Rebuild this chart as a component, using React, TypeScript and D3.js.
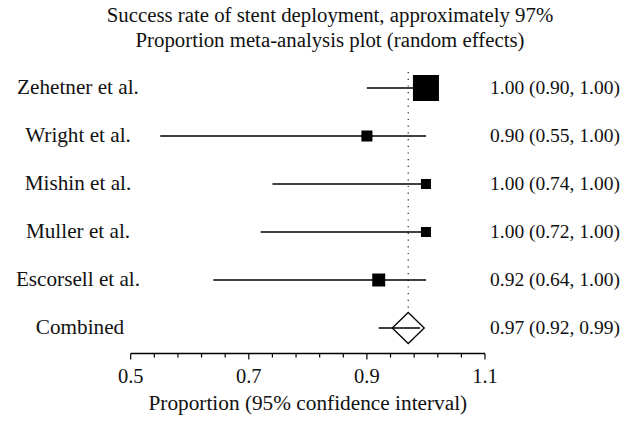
import React from "react";
import * as d3 from "d3";

const studies = ["Zehetner et al.", "Wright et al.", "Mishin et al.", "Muller et al.", "Escorsell et al."];
const estimates = [1.0, 0.9, 1.0, 1.0, 0.92];
const lowers = [0.9, 0.55, 0.74, 0.72, 0.64];
const uppers = [1.0, 1.0, 1.0, 1.0, 1.0];
const weights = [40.6, 7.3, 6.0, 6.0, 10.1];
const valueLabels = [
  "1.00 (0.90, 1.00)",
  "0.90 (0.55, 1.00)",
  "1.00 (0.74, 1.00)",
  "1.00 (0.72, 1.00)",
  "0.92 (0.64, 1.00)",
];
const combinedLabel = "Combined";
const combinedEstimate = 0.97;
const combinedLower = 0.92;
const combinedUpper = 0.99;
const combinedValueLabel = "0.97 (0.92, 0.99)";
const tickLabels = ["0.5", "0.7", "0.9", "1.1"];
const titleLines = [
  "Success rate of stent deployment, approximately 97%",
  "Proportion meta-analysis plot (random effects)",
];
const xAxisTitle = "Proportion (95% confidence interval)";

const W = 637;
const H = 421;
const FONT = "'Liberation Serif', 'Times New Roman', serif";

export default function App() {
  const x = d3.scaleLinear().domain([0.5, 1.1]).range([130.7, 485]);
  const rows = [...studies, combinedLabel];
  const y = d3.scalePoint<string>().domain(rows).range([88, 328]);
  const size = d3.scaleSqrt().domain([0, d3.max(weights) as number]).range([0, 26]);
  const ticks = d3.range(0, 16).map((i) => 0.5 + i * 0.04);
  const axisY = 353.5;
  const cy = y(combinedLabel) as number;
  const dHalfW = 16;
  const dHalfH = 15.5;
  const cx = x(combinedEstimate);

  return (
    <div style={{ position: "absolute", left: 0, top: 0 }}>
      <svg width={W} height={H} style={{ display: "block", background: "#fff" }} fontFamily={FONT}>
        <rect width={W} height={H} fill="#fff" />
        {titleLines.map((t, i) => (
          <text key={t} x={330} y={22 + i * 24.5} textAnchor="middle" fontSize={20.8} fill="#111">
            {t}
          </text>
        ))}
        {/* dotted reference line */}
        <line
          x1={cx}
          x2={cx}
          y1={72}
          y2={cy - dHalfH}
          stroke="#222"
          strokeWidth={1.2}
          strokeDasharray="1.2 5.5"
        />
        {studies.map((s, i) => {
          const yy = y(s) as number;
          const sz = size(weights[i]);
          return (
            <g key={s}>
              <text x={78} y={yy + 6} textAnchor="middle" fontSize={21.2} fill="#111">
                {s}
              </text>
              <line x1={x(lowers[i])} x2={x(uppers[i])} y1={yy} y2={yy} stroke="#000" strokeWidth={1.3} />
              <rect x={x(estimates[i]) - sz / 2} y={yy - sz / 2} width={sz} height={sz} fill="#000" />
              <text x={490} y={yy + 6} fontSize={19.5} fill="#111">
                {valueLabels[i]}
              </text>
            </g>
          );
        })}
        <g>
          <text x={80} y={cy + 6} textAnchor="middle" fontSize={21.2} fill="#111">
            {combinedLabel}
          </text>
          <line x1={x(combinedLower)} x2={x(combinedUpper)} y1={cy} y2={cy} stroke="#000" strokeWidth={1.3} />
          <path
            d={`M${cx},${cy - dHalfH} L${cx + dHalfW},${cy} L${cx},${cy + dHalfH} L${cx - dHalfW},${cy} Z`}
            fill="none"
            stroke="#000"
            strokeWidth={1.3}
          />
          <text x={490} y={cy + 6} fontSize={19.5} fill="#111">
            {combinedValueLabel}
          </text>
        </g>
        {/* axis */}
        <line x1={x(0.5)} x2={x(1.1)} y1={axisY} y2={axisY} stroke="#000" strokeWidth={1.3} />
        {ticks.map((t, i) => (
          <line
            key={i}
            x1={x(t)}
            x2={x(t)}
            y1={axisY}
            y2={axisY + (i % 5 === 0 ? 6 : 4)}
            stroke="#000"
            strokeWidth={1.2}
          />
        ))}
        {tickLabels.map((t) => (
          <text key={t} x={x(+t)} y={383} textAnchor="middle" fontSize={20.5} fill="#111">
            {t}
          </text>
        ))}
        <text x={(x(0.5) + x(1.1)) / 2} y={410} textAnchor="middle" fontSize={21.3} fill="#111">
          {xAxisTitle}
        </text>
      </svg>
    </div>
  );
}
